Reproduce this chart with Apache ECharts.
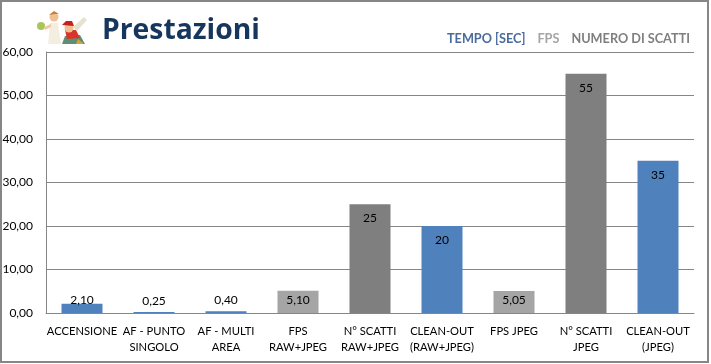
<!DOCTYPE html>
<html>
<head>
<meta charset="utf-8">
<style>
  html, body { margin: 0; padding: 0; background: #fff; }
  #chart { width: 711px; height: 364px; }
</style>
<script src="https://cdn.jsdelivr.net/npm/echarts@6/dist/echarts.min.js"></script>
</head>
<body>
<div id="chart"></div>
<script>
const categories = ['ACCENSIONE', 'AF - PUNTO\nSINGOLO', 'AF - MULTI\nAREA', 'FPS\nRAW+JPEG', 'N° SCATTI\nRAW+JPEG', 'CLEAN-OUT\n(RAW+JPEG)', 'FPS JPEG', 'N° SCATTI\nJPEG', 'CLEAN-OUT\n(JPEG)']
const tempo = [2.1, 0.25, 0.4, null, null, 20, null, null, 35]
const fps = [null, null, null, 5.1, null, null, 5.05, null, null]
const scatti = [null, null, null, null, 25, null, null, 55, null]
const valueLabels = ['2,10', '0,25', '0,40', '5,10', '25', '20', '5,05', '55', '35']
const yTicks = [0, 10, 20, 30, 40, 50, 60]

const fontName = 'Lato'

function labelFor(value) {
  // short bars carry the label over the top, tall ones inside
  if (value < 1) return { position: 'top', distance: 5 }
  if (value < 3) return { position: 'top', distance: -2 }
  if (value < 10) return { position: 'insideTop', distance: 3 }
  return { position: 'insideTop', distance: 8 }
}

function barSeries(name, values, color) {
  return {
    name: name,
    type: 'bar',
    barWidth: 41,
    barGap: '-100%',
    itemStyle: { color: color },
    label: {
      show: true,
      color: '#000',
      fontFamily: fontName,
      fontSize: 12,
      formatter: p => valueLabels[p.dataIndex]
    },
    data: values.map(v => v === null ? null : { value: v, label: labelFor(v) })
  }
}

// little clipart next to the title
function logo() {
  const poly = (points, fill) => ({ type: 'polygon', silent: true, shape: { points: points }, style: { fill: fill } })
  const dot = (cx, cy, r, fill) => ({ type: 'circle', silent: true, shape: { cx: cx, cy: cy, r: r }, style: { fill: fill } })
  return [
    dot(41, 26, 4, '#a9c65a'),
    poly([[50, 23], [58, 23], [61, 44], [48, 44]], '#f4eee0'),
    poly([[44, 27], [51, 24], [51, 27], [45, 30]], '#f0c9a0'),
    dot(54, 17, 4.5, '#f0c090'),
    poly([[49, 15], [54, 11], [59, 14], [55, 14]], '#c8803c'),
    poly([[62, 44], [65, 36], [80, 35], [85, 44]], '#5f8f72'),
    poly([[65, 30], [76, 30], [80, 38], [67, 39]], '#d8342a'),
    dot(69, 28, 4.5, '#f0c090'),
    poly([[62, 25], [66, 21], [72, 21], [74, 26]], '#c8201c'),
    poly([[73, 27], [84, 17], [87, 20], [77, 31]], '#e6e2cf'),
    poly([[78, 39], [84, 44], [76, 44]], '#e0a030')
  ]
}

const chart = echarts.init(document.getElementById('chart'), null, { renderer: 'canvas' })
chart.setOption({
  animation: false,
  backgroundColor: '#fff',
  textStyle: { fontFamily: fontName },
  grid: { left: 46, right: 17, top: 52, bottom: 51, outerBoundsMode: 'none' },
  title: {
    text: 'Prestazioni',
    left: 97,
    top: 12,
    textStyle: { color: '#17365d', fontFamily: 'Open Sans', fontSize: 28.3, fontWeight: 'bold' }
  },
  legend: {
    top: 27,
    right: 16,
    icon: 'none',
    itemWidth: 0,
    itemHeight: 0,
    itemGap: 7,
    selectedMode: false,
    textStyle: { fontFamily: fontName, fontSize: 12.7, fontWeight: 'bold', color: 'inherit' },
    data: [
      { name: 'TEMPO [SEC]', textStyle: { color: '#4a6c9b' } },
      { name: 'FPS', textStyle: { color: '#a5a5a5' } },
      { name: 'NUMERO DI SCATTI', textStyle: { color: '#7f7f7f' } }
    ]
  },
  xAxis: {
    type: 'category',
    data: categories,
    axisTick: { show: false },
    axisLine: { lineStyle: { color: '#868686', width: 1 } },
    axisLabel: { color: '#000', fontSize: 11.2, lineHeight: 16, margin: 10, interval: 0, fontFamily: fontName }
  },
  yAxis: {
    type: 'value',
    min: yTicks[0],
    max: yTicks[yTicks.length - 1],
    interval: 10,
    axisTick: { show: false },
    axisLine: { show: true, lineStyle: { color: '#868686', width: 1 } },
    splitLine: { lineStyle: { color: '#868686', width: 1 } },
    axisLabel: {
      color: '#000',
      fontSize: 12,
      margin: 13,
      fontFamily: fontName,
      formatter: v => v.toFixed(2).replace('.', ',')
    }
  },
  series: [
    barSeries('TEMPO [SEC]', tempo, '#4f81bd'),
    barSeries('FPS', fps, '#a5a5a5'),
    barSeries('NUMERO DI SCATTI', scatti, '#7f7f7f')
  ],
  graphic: logo().concat([
    {
      type: 'rect',
      silent: true,
      z: 100,
      shape: { x: 1, y: 1, width: 707, height: 361 },
      style: { fill: 'none', stroke: '#868686', lineWidth: 2 }
    }
  ])
})
</script>
</body>
</html>
